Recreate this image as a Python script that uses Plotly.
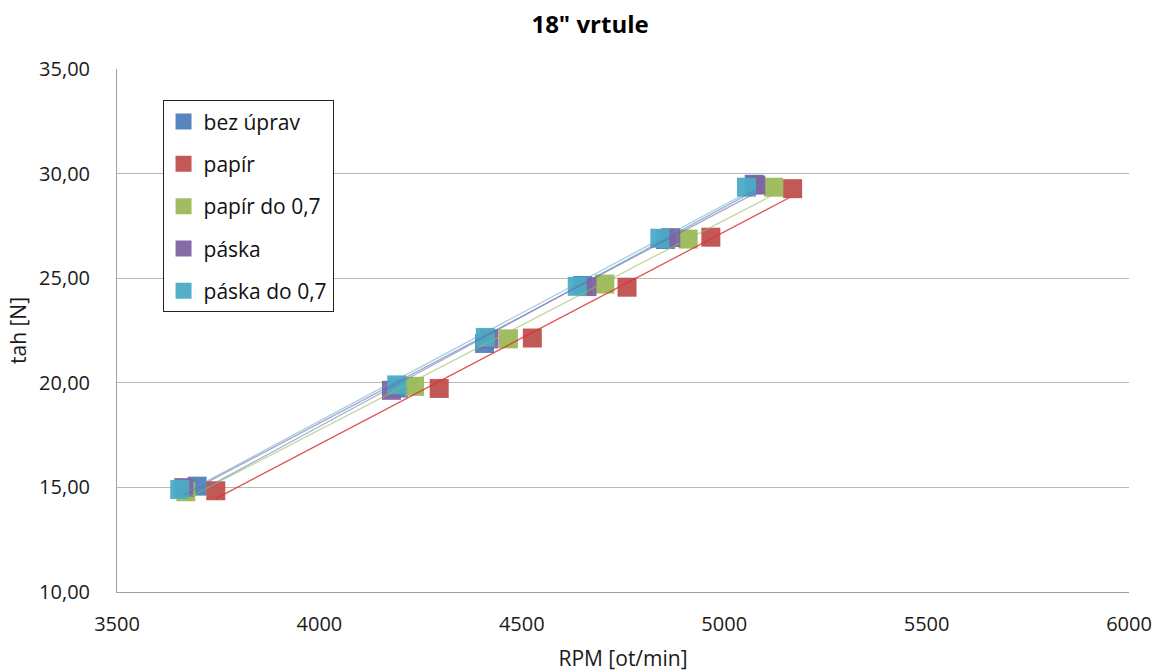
import numpy as np
import plotly.graph_objects as go

# values: RPM [ot/min] and tah [N]
series_names = ["bez úprav", "papír", "papír do 0,7", "páska", "páska do 0,7"]
rpm_bez = [3698, 4195, 4408, 4650, 4855, 5074]
tah_bez = [15.06, 19.75, 21.88, 24.65, 26.85, 29.49]
rpm_papir = [3744, 4296, 4526, 4760, 4967, 5169]
tah_papir = [14.84, 19.73, 22.14, 24.57, 26.96, 29.28]
rpm_papir07 = [3670, 4235, 4467, 4705, 4911, 5122]
tah_papir07 = [14.79, 19.83, 22.10, 24.72, 26.87, 29.35]
rpm_paska = [3665, 4178, 4419, 4661, 4868, 5078]
tah_paska = [14.99, 19.64, 22.10, 24.60, 26.94, 29.45]
rpm_paska07 = [3655, 4191, 4410, 4637, 4841, 5055]
tah_paska07 = [14.90, 19.90, 22.17, 24.61, 26.91, 29.35]

colors = ["#4F81BD", "#C0504D", "#9BBB59", "#8064A2", "#4BACC6"]
trend_colors = ["rgba(79,129,189,0.6)", "rgba(220,50,50,0.85)", "rgba(155,187,89,0.6)",
                "rgba(128,100,162,0.6)", "rgba(75,172,198,0.55)"]

xs = [rpm_bez, rpm_papir, rpm_papir07, rpm_paska, rpm_paska07]
ys = [tah_bez, tah_papir, tah_papir07, tah_paska, tah_paska07]

FONT = "Open Sans"
fig = go.Figure()

for name, x, y, c in zip(series_names, xs, ys, colors):
    fig.add_trace(go.Scatter(
        x=x, y=y, mode="markers", name=name, legendgroup=name,
        marker=dict(symbol="square", size=19, color=c, opacity=0.95,
                    line=dict(width=0))))

# linear trendlines (like excel)
for name, x, y, c in zip(series_names, xs, ys, trend_colors):
    k, q = np.polyfit(x, y, 1)
    tx = np.array([min(x), max(x)])
    fig.add_trace(go.Scatter(
        x=tx, y=k * tx + q, mode="lines", showlegend=False, hoverinfo="skip",
        line=dict(color=c, width=1.3)))

fig.update_layout(
    width=1157, height=672,
    margin=dict(l=117, r=28, t=69, b=80),
    paper_bgcolor="white", plot_bgcolor="white",
    separators=", ",
    font=dict(family=FONT, size=20, color="#1a1a1a"),
    title=dict(text="<b>18\" vrtule</b>", x=0.51, xanchor="center", y=0.963, yanchor="middle",
               font=dict(family=FONT, size=24, color="black")),
    legend=dict(x=0.045, y=0.94, xanchor="left", yanchor="top",
                bgcolor="white", bordercolor="#222", borderwidth=1,
                font=dict(family=FONT, size=21, color="#111"),
                tracegroupgap=12, itemsizing="trace", itemwidth=30),
    showlegend=True,
)
fig.update_xaxes(
    range=[3500, 6000], dtick=500, tickformat="d",
    showgrid=False, zeroline=False, automargin=False,
    showline=True, linecolor="#A0A0A0", linewidth=1,
    ticks="", ticklabelstandoff=14,
    title=dict(text="RPM [ot/min]", standoff=19, font=dict(size=21)),
)
fig.update_yaxes(
    range=[10, 35], dtick=5, tickformat=".2f",
    showgrid=True, gridcolor="#B8B8B8", gridwidth=1, zeroline=False, automargin=False,
    showline=True, linecolor="#A0A0A0", linewidth=1,
    ticks="", ticklabelstandoff=22,
    title=dict(text="tah [N]", standoff=6, font=dict(size=21)),
)

page_fix = ("document.body.style.margin='0px';"
            "document.body.style.overflow='hidden';"
            "document.documentElement.style.overflow='hidden';")
fig.write_html("out.html", config={"displayModeBar": False}, post_script=page_fix)
